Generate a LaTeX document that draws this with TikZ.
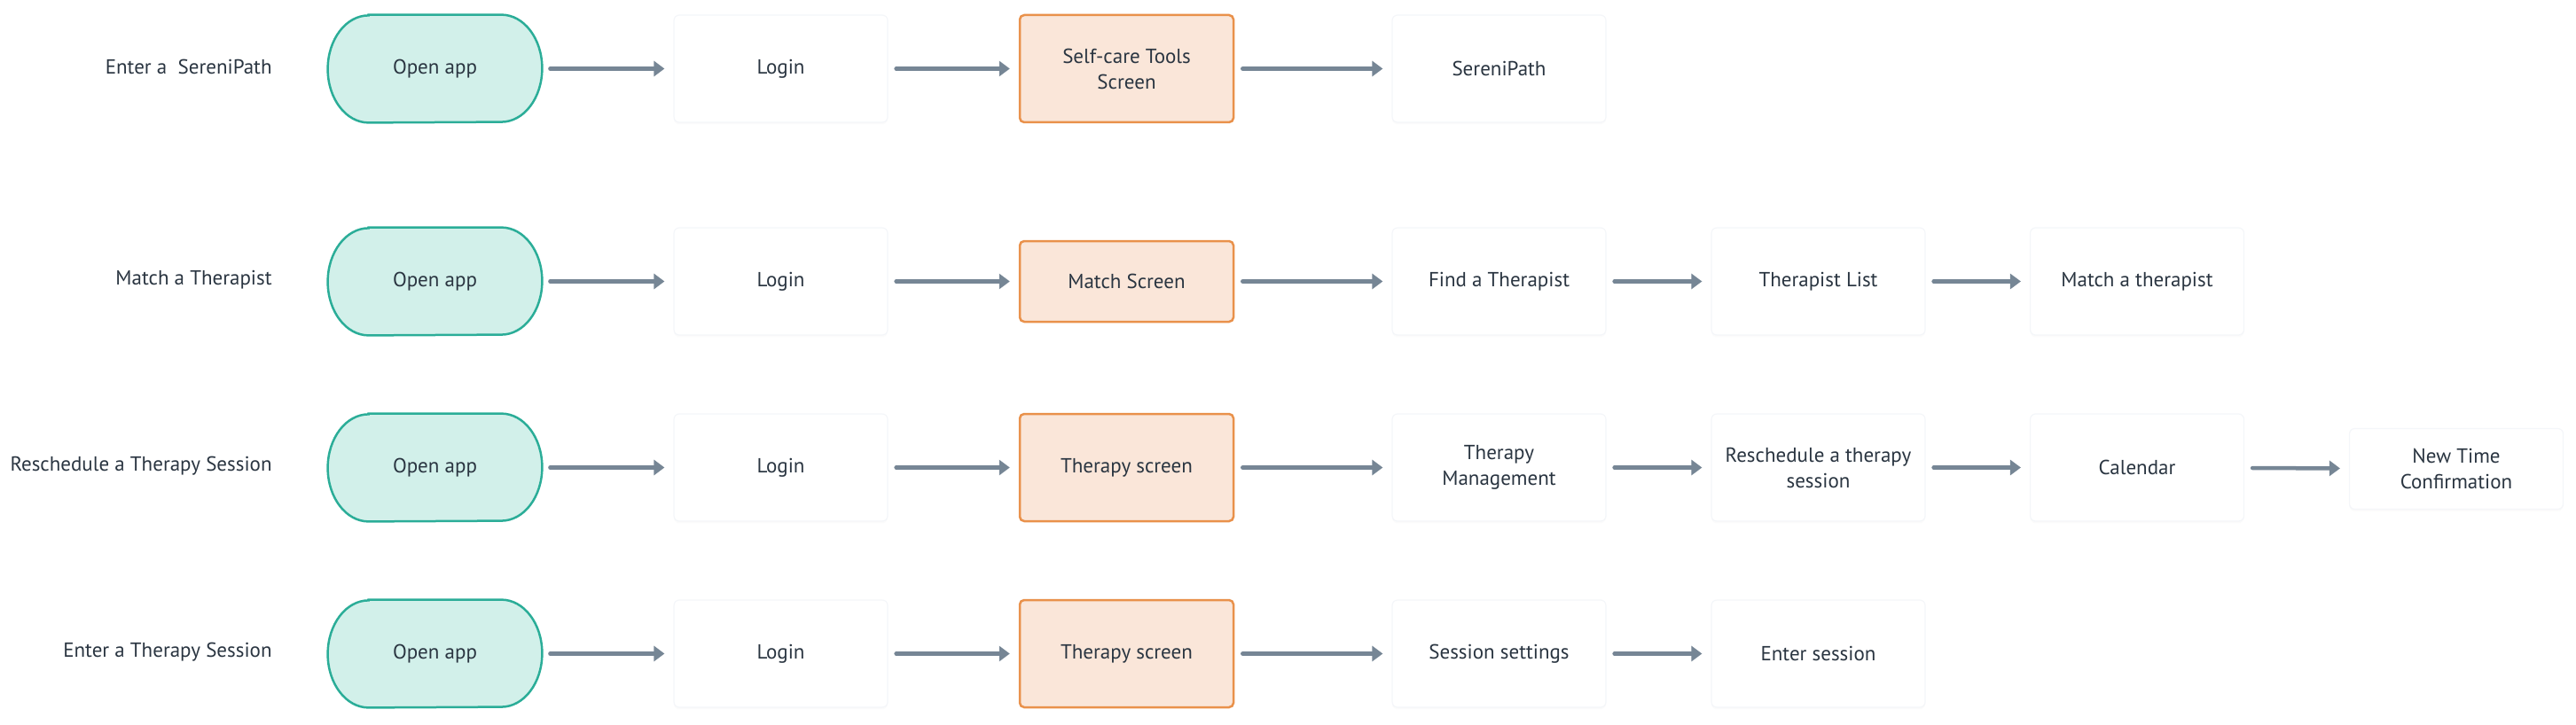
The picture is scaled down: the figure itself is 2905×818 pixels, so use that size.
\documentclass[tikz,border=0pt]{standalone}
\usepackage{fontspec}
\setmainfont{PT Sans}
\usetikzlibrary{arrows.meta,shadows,backgrounds}
\definecolor{tealb}{HTML}{2BAD98}
\definecolor{tealf}{HTML}{D2F0EA}
\definecolor{orb}{HTML}{E9914B}
\definecolor{orf}{HTML}{FAE6D9}
\definecolor{arr}{HTML}{768695}
\definecolor{txt}{HTML}{2A3541}
\definecolor{wb}{HTML}{F4F6F9}
\newcommand\openshape[1]{%
  \begin{scope}[on background layer]
  \draw[draw=tealb, fill=tealf, line width=1.25pt]
    ([xshift=23pt]#1.north west) -- ([xshift=-23pt]#1.north east)
    arc[start angle=90,end angle=-90,x radius=23pt,y radius=30.25pt]
    -- ([xshift=23pt]#1.south west)
    arc[start angle=270,end angle=90,x radius=23pt,y radius=30.25pt] -- cycle;
  \end{scope}}
\begin{document}
\begin{tikzpicture}[x=0.5pt,y=-0.5pt,
  every node/.style={font=\fontsize{11.5}{14.5}\selectfont, text=txt, align=center},
  base/.style={minimum width=120.5pt, minimum height=60.5pt, inner sep=0pt},
  startnode/.style={base},
  screen/.style={base, draw=orb, fill=orf, line width=1.25pt, rounded corners=2.5pt},
  screenshort/.style={screen, minimum height=45.5pt},
  plain/.style={base, draw=wb, fill=white, line width=0.6pt, rounded corners=3pt,
    drop shadow={opacity=0.03, shadow xshift=0pt, shadow yshift=-1.2pt}},
  plainshort/.style={plain, minimum height=45.5pt},
  flow/.style={draw=arr, line width=2.25pt, line cap=round,
    -{Triangle[length=6pt,width=8.5pt]}, shorten <=4.5pt, shorten >=5pt},
  rowlabel/.style={anchor=east, inner sep=0pt}
]
\useasboundingbox (0,0) rectangle (2905,818);

% Row 1
\node[rowlabel] (r1) at (307,75.5) {Enter a~ SereniPath};
\node[startnode] (o1) at (490.5,77.5) {Open app};
\openshape{o1}
\node[plain] (l1) at (880.5,77.5) {Login};
\node[screen] (s1) at (1270.5,77.5) {Self-care Tools\\Screen};
\node[plain] (e1) at (1690.5,77.5) {SereniPath};
\draw[flow] (o1) -- (l1);
\draw[flow] (l1) -- (s1);
\draw[flow] (s1) -- (e1);

% Row 2
\node[rowlabel] (r2) at (307,315.5) {Match a Therapist};
\node[startnode] (o2) at (490.5,317.5) {Open app};
\openshape{o2}
\node[plain] (l2) at (880.5,317.5) {Login};
\node[screenshort] (s2) at (1270.5,317.5) {Match Screen};
\node[plain] (f2) at (1690.5,317.5) {Find a Therapist};
\node[plain] (t2) at (2050.5,317.5) {Therapist List};
\node[plain] (m2) at (2410,317.5) {Match a therapist};
\draw[flow] (o2) -- (l2);
\draw[flow] (l2) -- (s2);
\draw[flow] (s2) -- (f2);
\draw[flow] (f2) -- (t2);
\draw[flow] (t2) -- (m2);

% Row 3
\node[rowlabel] (r3) at (307,525.5) {Reschedule a Therapy Session};
\node[startnode] (o3) at (490.5,527.5) {Open app};
\openshape{o3}
\node[plain] (l3) at (880.5,527.5) {Login};
\node[screen] (s3) at (1270.5,527.5) {Therapy screen};
\node[plain] (a3) at (1690.5,527.5) {Therapy\\Management};
\node[plain] (q3) at (2050.5,527.5) {Reschedule a therapy\\session};
\node[plain] (c3) at (2410,527.5) {Calendar};
\node[plainshort] (n3) at (2770,529) {New Time\\Confirmation};
\draw[flow] (o3) -- (l3);
\draw[flow] (l3) -- (s3);
\draw[flow] (s3) -- (a3);
\draw[flow] (a3) -- (q3);
\draw[flow] (q3) -- (c3);
\draw[flow] (c3) -- (n3);

% Row 4
\node[rowlabel] (r4) at (307,735.5) {Enter a Therapy Session};
\node[startnode] (o4) at (490.5,737.5) {Open app};
\openshape{o4}
\node[plain] (l4) at (880.5,737.5) {Login};
\node[screen] (s4) at (1270.5,737.5) {Therapy screen};
\node[plain] (g4) at (1690.5,737.5) {Session settings};
\node[plain] (h4) at (2050.5,737.5) {Enter session};
\draw[flow] (o4) -- (l4);
\draw[flow] (l4) -- (s4);
\draw[flow] (s4) -- (g4);
\draw[flow] (g4) -- (h4);
\end{tikzpicture}
\end{document}
